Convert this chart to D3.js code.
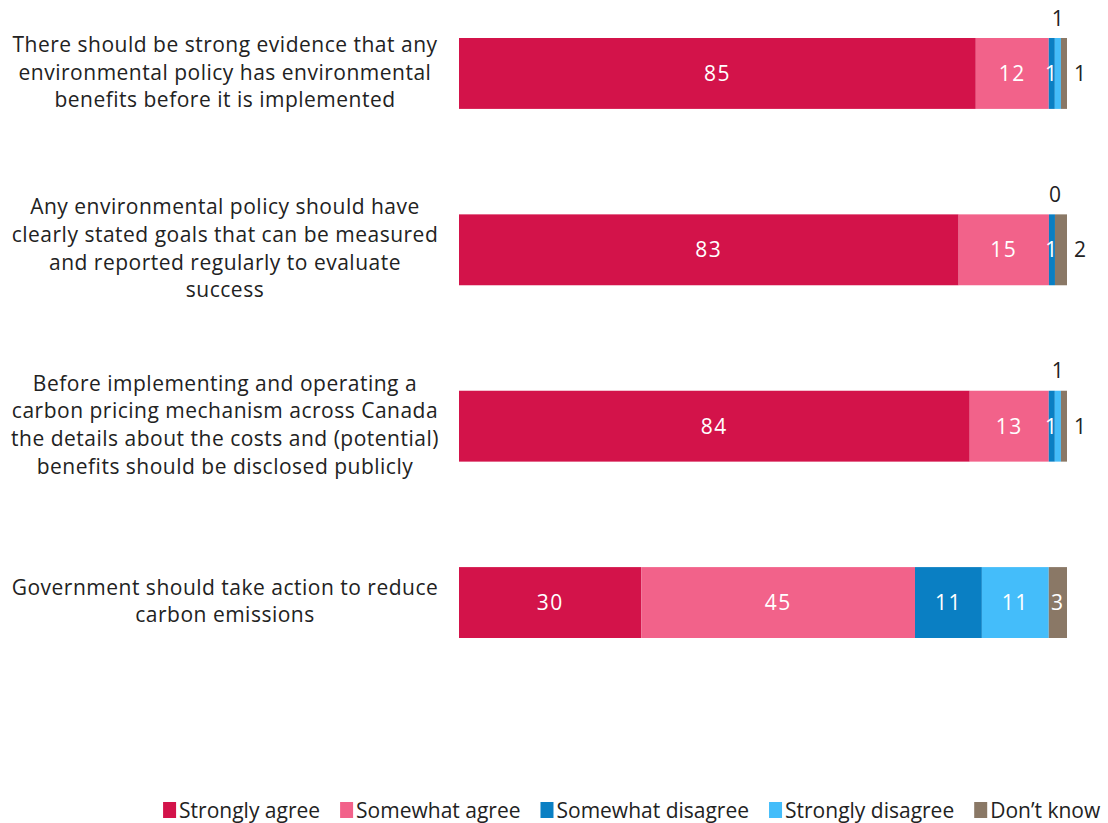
<!DOCTYPE html>
<html>
<head>
<meta charset="utf-8">
<script src="https://cdn.jsdelivr.net/npm/d3@7"></script>
<style>
  html, body { margin: 0; padding: 0; background: #fff; }
  svg { display: block; font-family: "Open Sans", "Noto Sans", sans-serif; }
</style>
</head>
<body>
<svg id="chart" width="1108" height="823"></svg>
<script>
// Statements (each entry is a list of wrapped lines)
const statements = [
  ["There should be strong evidence that any", "environmental policy has environmental", "benefits before it is implemented"],
  ["Any environmental policy should have", "clearly stated goals that can be measured", "and reported regularly to evaluate", "success"],
  ["Before implementing and operating a", "carbon pricing mechanism across Canada", "the details about the costs and (potential)", "benefits should be disclosed publicly"],
  ["Government should take action to reduce", "carbon emissions"]
];

const responses = ["Strongly agree", "Somewhat agree", "Somewhat disagree", "Strongly disagree", "Don\u2019t know"];

// Percent of respondents per statement
const stronglyAgree    = [85, 83, 84, 30];
const somewhatAgree    = [12, 15, 13, 45];
const somewhatDisagree = [1, 1, 1, 11];
const stronglyDisagree = [1, 0, 1, 11];
const dontKnow         = [1, 2, 1, 3];

const colors = ["#d3134a", "#f2628a", "#0a7fc3", "#44bdfa", "#8a7866"];

const seriesValues = [stronglyAgree, somewhatAgree, somewhatDisagree, stronglyDisagree, dontKnow];
const rows = statements.map((s, i) => {
  const row = { id: i };
  responses.forEach((r, k) => { row[r] = seriesValues[k][i]; });
  return row;
});

const svg = d3.select("#chart");

const x = d3.scaleLinear().domain([0, 1]).range([459, 1067]);
const y = d3.scaleBand().domain(rows.map(r => r.id)).range([38, 638]).paddingInner(0.598).paddingOuter(0);
const color = d3.scaleOrdinal().domain(responses).range(colors);

const stack = d3.stack().keys(responses).offset(d3.stackOffsetExpand);
const layers = stack(rows);

// Bars
const gLayers = svg.append("g").selectAll("g").data(layers).join("g")
  .attr("fill", d => color(d.key));

gLayers.selectAll("rect").data(d => d).join("rect")
  .attr("x", d => x(d[0]))
  .attr("y", d => y(d.data.id))
  .attr("width", d => Math.max(0, x(d[1]) - x(d[0])))
  .attr("height", y.bandwidth());

// Value labels
const labelFont = 21;
layers.forEach(layer => {
  layer.forEach(d => {
    const v = d.data[layer.key];
    const x0 = x(d[0]), x1 = x(d[1]);
    const yc = y(d.data.id) + y.bandwidth() / 2;
    let tx = (x0 + x1) / 2, ty = yc, fill = "#fff", anchor = "middle";
    if (layer.key === "Strongly disagree" && v < 3) {
      ty = y(d.data.id) - 20; fill = "#222";
    } else if (layer.key === "Don\u2019t know" && v < 3) {
      tx = x(1) + 7; fill = "#222"; anchor = "start";
    }
    svg.append("text")
      .attr("x", tx).attr("y", ty)
      .attr("dy", "0.36em")
      .attr("text-anchor", anchor)
      .attr("fill", fill)
      .attr("font-size", labelFont)
      .attr("letter-spacing", fill === "#fff" ? "1.5px" : "0px")
      .text(v);
  });
});

// Statement labels
const lineH = 27.6;
const gLabels = svg.append("g");
rows.forEach((r, i) => {
  const lines = statements[i];
  const yc = y(r.id) + y.bandwidth() / 2 - 1.5;
  const t = gLabels.append("text")
    .attr("text-anchor", "middle")
    .attr("fill", "#222")
    .attr("font-size", 21)
    .attr("letter-spacing", "0.5px");
  lines.forEach((ln, j) => {
    t.append("tspan")
      .attr("x", 225)
      .attr("y", yc + (j - (lines.length - 1) / 2) * lineH)
      .attr("dy", "0.36em")
      .text(ln);
  });
});

// Legend
const legend = svg.append("g").attr("font-size", 21).attr("fill", "#222");
const items = legend.selectAll("g").data(responses).join("g");
items.append("rect").attr("width", 13).attr("height", 16).attr("y", -8).attr("fill", d => color(d));
items.append("text").attr("x", 16).attr("dy", "0.36em").text(d => d);
const gap = 20;
const widths = [];
items.each(function () { widths.push(this.getBBox().width); });
const total = d3.sum(widths) + gap * (widths.length - 1);
let start = 1101 - total;
items.attr("transform", (d, i) => {
  const tx = start;
  start += widths[i] + gap;
  return `translate(${tx},810)`;
});
</script>
</body>
</html>
